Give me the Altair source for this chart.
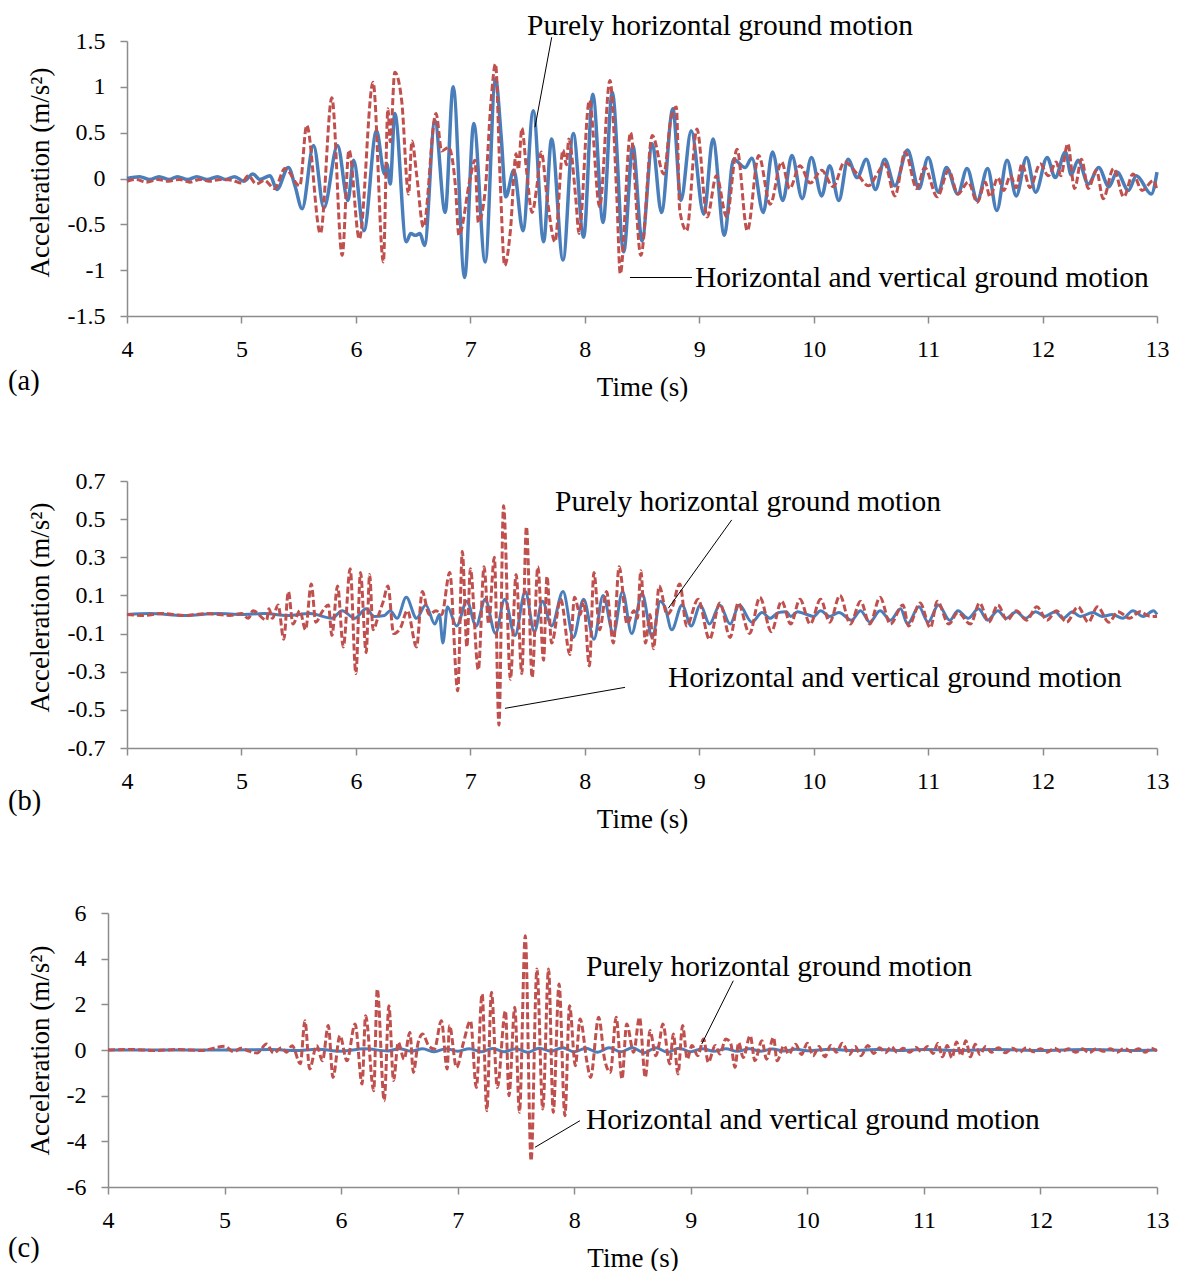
import altair as alt
import pandas as pd

FONT = "Liberation Serif"
BLUE = "#4A7EBB"
RED = "#C0504D"
GRAY = "#8C8C8C"

TIME_TICKS = [4, 5, 6, 7, 8, 9, 10, 11, 12, 13]

# ---------------- panel (a) ----------------
A_H = [(4.00, 0.0), (4.11, 0.02), (4.20, -0.01), (4.28, 0.02), (4.37, -0.01), (4.44, 0.02), (4.53, -0.01),
       (4.61, 0.02), (4.70, -0.01), (4.79, 0.02), (4.86, -0.01), (4.94, 0.02), (5.02, -0.03), (5.10, 0.05),
       (5.16, -0.01), (5.25, 0.03), (5.31, -0.12), (5.41, 0.12), (5.47, -0.09), (5.53, -0.33), (5.63, 0.36),
       (5.72, -0.32), (5.84, 0.36), (5.93, -0.24), (5.98, 0.20), (6.07, -0.57), (6.18, 0.52), (6.25, 0.05),
       (6.27, 0.16), (6.30, -0.06), (6.34, 0.71), (6.44, -0.69), (6.48, -0.60), (6.52, -0.62), (6.56, -0.60),
       (6.60, -0.73), (6.69, 0.63), (6.78, -0.37), (6.85, 1.00), (6.95, -1.08), (7.03, 0.60), (7.13, -0.91),
       (7.22, 1.09), (7.27, 0.45), (7.31, -0.20), (7.38, 0.09), (7.46, -0.57), (7.55, 0.74), (7.64, -0.69),
       (7.71, 0.43), (7.81, -0.89), (7.90, 0.49), (7.99, -0.64), (8.07, 0.92), (8.16, -0.48), (8.24, 0.94),
       (8.34, -0.80), (8.42, 0.36), (8.50, -0.68), (8.59, 0.38), (8.67, -0.37), (8.77, 0.76), (8.84, -0.24),
       (8.93, 0.52), (9.04, -0.39), (9.12, 0.43), (9.22, -0.62), (9.30, 0.21), (9.40, 0.12), (9.46, 0.22),
       (9.56, -0.37), (9.64, 0.29), (9.73, -0.24), (9.81, 0.25), (9.90, -0.22), (9.98, 0.23), (10.07, -0.19),
       (10.14, 0.14), (10.22, -0.24), (10.30, 0.21), (10.38, 0.01), (10.46, 0.21), (10.54, -0.12),
       (10.62, 0.21), (10.71, -0.08), (10.82, 0.31), (10.92, -0.11), (11.00, 0.23), (11.09, -0.15),
       (11.16, 0.12), (11.26, -0.17), (11.34, 0.11), (11.43, -0.24), (11.52, 0.11), (11.60, -0.35),
       (11.69, 0.20), (11.77, -0.19), (11.86, 0.23), (11.94, -0.15), (12.04, 0.23), (12.11, 0.01),
       (12.20, 0.29), (12.25, 0.04), (12.31, 0.20), (12.40, -0.06), (12.49, 0.12), (12.58, -0.09),
       (12.65, 0.07), (12.75, -0.13), (12.82, 0.03), (12.95, -0.17), (13.00, 0.07)]

A_HV = [(4.00, -0.03), (4.08, -0.01), (4.17, -0.04), (4.27, -0.01), (4.36, -0.03), (4.46, -0.01), (4.55, -0.04),
        (4.64, -0.01), (4.72, -0.03), (4.82, -0.01), (4.92, -0.02), (5.00, -0.05), (5.06, 0.03), (5.13, -0.06),
        (5.20, -0.02), (5.29, -0.11), (5.38, 0.11), (5.51, -0.08), (5.57, 0.58), (5.69, -0.60), (5.79, 0.88),
        (5.88, -0.84), (5.94, 0.31), (6.03, -0.66), (6.15, 1.05), (6.24, -0.91), (6.28, 0.76), (6.30, 0.40),
        (6.34, 1.16), (6.40, 0.85), (6.46, -0.17), (6.49, 0.41), (6.53, 0.05), (6.59, -0.53), (6.70, 0.71),
        (6.75, 0.30), (6.81, 0.34), (6.87, -0.09), (6.90, -0.62), (7.00, 0.01), (7.04, 0.20), (7.07, -0.48),
        (7.13, -0.13), (7.18, 0.83), (7.22, 1.25), (7.26, 0.0), (7.30, -0.95), (7.35, -0.57), (7.40, 0.27),
        (7.42, 0.10), (7.45, 0.55), (7.49, 0.10), (7.54, -0.37), (7.58, -0.10), (7.62, 0.29), (7.67, -0.20),
        (7.74, -0.69), (7.81, 0.31), (7.84, 0.15), (7.86, 0.43), (7.92, -0.20), (7.95, -0.60), (8.04, 0.85),
        (8.13, -0.31), (8.22, 1.07), (8.28, -0.20), (8.31, -1.04), (8.40, 0.50), (8.49, -0.84), (8.59, 0.47),
        (8.69, 0.05), (8.75, 0.63), (8.80, 0.78), (8.83, -0.35), (8.89, -0.57), (8.98, 0.54), (9.07, -0.42),
        (9.15, 0.03), (9.24, -0.42), (9.33, 0.32), (9.42, -0.57), (9.52, 0.25), (9.62, -0.28), (9.72, 0.18),
        (9.79, -0.11), (9.88, 0.14), (9.97, -0.05), (10.07, 0.09), (10.17, -0.09), (10.27, 0.18), (10.38, 0.05),
        (10.48, -0.08), (10.56, 0.06), (10.62, 0.16), (10.71, -0.19), (10.80, 0.29), (10.90, -0.11),
        (10.97, 0.12), (11.08, -0.20), (11.18, 0.09), (11.26, -0.17), (11.35, -0.04), (11.43, -0.26),
        (11.50, -0.04), (11.54, -0.20), (11.61, 0.01), (11.66, -0.13), (11.72, 0.03), (11.77, -0.10),
        (11.82, 0.16), (11.89, -0.10), (11.98, 0.16), (12.05, 0.03), (12.12, 0.18), (12.16, 0.03),
        (12.22, 0.38), (12.28, -0.11), (12.34, 0.21), (12.40, -0.11), (12.47, 0.09), (12.53, -0.22),
        (12.62, 0.11), (12.71, -0.20), (12.79, 0.05), (12.87, -0.13), (12.97, -0.02), (13.00, -0.13)]

A_YTICKS = [-1.5, -1, -0.5, 0, 0.5, 1, 1.5]

# ---------------- panel (b) ----------------
B_H = [(4.0, 0.0), (4.2, 0.005), (4.5, -0.005), (4.8, 0.005), (5.0, 0.0), (5.2, 0.005), (5.4, -0.005),
       (5.6, 0.005), (5.79, -0.02), (5.88, 0.02), (5.99, -0.02), (6.09, 0.03), (6.16, -0.01), (6.25, -0.005),
       (6.30, 0.02), (6.36, -0.02), (6.44, 0.09), (6.53, -0.02), (6.61, 0.05), (6.69, -0.05), (6.73, 0.0),
       (6.76, -0.15), (6.80, 0.04), (6.88, -0.06), (6.97, 0.07), (7.05, -0.06), (7.13, 0.08), (7.22, -0.10),
       (7.30, 0.08), (7.39, -0.11), (7.48, 0.12), (7.56, -0.09), (7.63, 0.07), (7.71, -0.06), (7.81, 0.12),
       (7.90, -0.12), (7.99, 0.08), (8.08, -0.13), (8.16, 0.10), (8.25, -0.10), (8.33, 0.12), (8.41, -0.10),
       (8.50, 0.11), (8.59, -0.12), (8.66, 0.07), (8.70, 0.04), (8.76, -0.08), (8.85, 0.05), (8.93, -0.06),
       (9.01, 0.05), (9.09, -0.05), (9.18, 0.05), (9.27, -0.05), (9.35, 0.05), (9.46, -0.04), (9.55, 0.01),
       (9.62, -0.02), (9.69, 0.01), (9.76, 0.015), (9.80, -0.01), (9.86, 0.015), (9.94, 0.0), (10.00, -0.01),
       (10.06, 0.02), (10.14, -0.01), (10.22, 0.01), (10.33, -0.03), (10.41, 0.02), (10.49, -0.04),
       (10.58, 0.02), (10.67, -0.03), (10.76, 0.03), (10.82, -0.05), (10.92, 0.04), (11.00, -0.04),
       (11.09, 0.05), (11.19, -0.03), (11.26, 0.02), (11.35, -0.02), (11.44, 0.03), (11.52, -0.03),
       (11.61, 0.02), (11.68, -0.02), (11.77, 0.015), (11.85, -0.02), (11.94, 0.015), (12.02, -0.01),
       (12.11, 0.015), (12.18, -0.02), (12.26, 0.015), (12.33, -0.01), (12.44, 0.01), (12.52, -0.01),
       (12.61, 0.0), (12.70, -0.02), (12.79, 0.02), (12.88, -0.01), (12.97, 0.02), (13.00, 0.0)]

B_HV = [(4.0, 0.0), (4.15, -0.005), (4.3, 0.005), (4.5, -0.005), (4.7, 0.005), (4.9, -0.005), (5.0, 0.005),
        (5.06, -0.02), (5.10, 0.02), (5.22, -0.03), (5.24, 0.03), (5.27, -0.02), (5.32, 0.05), (5.37, -0.13),
        (5.41, 0.12), (5.45, -0.05), (5.51, 0.02), (5.56, -0.08), (5.61, 0.16), (5.65, -0.04), (5.70, 0.01),
        (5.76, 0.05), (5.79, -0.11), (5.84, 0.15), (5.89, -0.17), (5.95, 0.24), (6.00, -0.31), (6.04, 0.22),
        (6.09, -0.20), (6.12, 0.21), (6.15, -0.08), (6.20, 0.0), (6.24, 0.07), (6.28, 0.15), (6.33, -0.10),
        (6.39, -0.07), (6.45, 0.02), (6.53, -0.17), (6.58, 0.12), (6.64, 0.0), (6.70, 0.02), (6.75, 0.0),
        (6.82, 0.22), (6.89, -0.40), (6.93, 0.33), (6.97, -0.17), (7.00, 0.24), (7.07, -0.29), (7.12, 0.25),
        (7.16, -0.05), (7.21, 0.30), (7.25, -0.58), (7.29, 0.57), (7.35, -0.34), (7.40, 0.21), (7.45, -0.31),
        (7.49, 0.46), (7.54, -0.33), (7.59, 0.25), (7.64, -0.24), (7.67, 0.20), (7.71, -0.15), (7.79, 0.08),
        (7.87, -0.21), (7.91, 0.09), (7.96, 0.0), (7.99, 0.07), (8.04, -0.27), (8.08, 0.22), (8.13, -0.08),
        (8.19, 0.12), (8.25, -0.15), (8.30, 0.25), (8.37, -0.05), (8.43, 0.02), (8.46, -0.02), (8.49, 0.23),
        (8.53, -0.15), (8.57, 0.0), (8.60, -0.18), (8.65, 0.15), (8.72, 0.0), (8.76, 0.03), (8.83, 0.16),
        (8.89, -0.06), (8.99, 0.08), (9.09, -0.13), (9.18, 0.06), (9.27, -0.12), (9.34, 0.06), (9.44, -0.10),
        (9.53, 0.09), (9.63, -0.09), (9.72, 0.07), (9.80, -0.05), (9.88, 0.08), (9.97, -0.05), (10.06, 0.08),
        (10.14, -0.04), (10.23, 0.10), (10.32, -0.05), (10.41, 0.07), (10.49, -0.05), (10.58, 0.09),
        (10.67, -0.05), (10.78, 0.05), (10.83, -0.06), (10.93, 0.06), (11.02, -0.07), (11.08, 0.07),
        (11.18, -0.05), (11.26, 0.01), (11.37, -0.05), (11.45, 0.06), (11.53, -0.04), (11.61, 0.05),
        (11.69, -0.03), (11.77, 0.02), (11.86, -0.03), (11.95, 0.04), (12.04, -0.03), (12.12, 0.02),
        (12.21, -0.04), (12.31, 0.04), (12.40, -0.04), (12.48, 0.04), (12.58, -0.04), (12.66, 0.015),
        (12.76, -0.02), (12.85, 0.015), (12.94, -0.01), (13.00, -0.01)]

B_YTICKS = [-0.7, -0.5, -0.3, -0.1, 0.1, 0.3, 0.5, 0.7]

# ---------------- panel (c) ----------------
C_H = [(4.0, 0.0), (4.5, 0.0), (5.0, 0.0), (5.4, 0.02), (5.6, -0.02), (5.8, 0.03), (6.0, -0.05), (6.2, 0.05),
       (6.4, -0.04), (6.5, 0.06), (6.6, -0.05), (6.7, 0.05), (6.8, -0.08), (6.9, 0.06), (7.0, -0.05),
       (7.1, 0.06), (7.2, -0.08), (7.3, 0.07), (7.4, -0.08), (7.5, 0.06), (7.6, -0.10), (7.7, 0.08),
       (7.8, -0.05), (7.9, 0.10), (8.0, -0.08), (8.1, 0.08), (8.2, -0.10), (8.3, 0.10), (8.4, -0.08),
       (8.5, 0.10), (8.6, -0.12), (8.7, 0.10), (8.8, -0.10), (8.9, 0.08), (9.0, -0.08), (9.1, 0.06),
       (9.2, -0.06), (9.3, 0.05), (9.4, -0.06), (9.5, 0.05), (9.6, -0.05), (9.7, 0.04), (9.8, -0.04),
       (9.9, 0.03), (10.0, -0.03), (10.2, 0.03), (10.4, -0.02), (10.6, 0.02), (10.8, -0.02), (11.0, 0.02),
       (11.3, -0.02), (11.6, 0.02), (12.0, -0.02), (12.4, 0.02), (12.8, -0.02), (13.0, 0.0)]

C_HV = [(4.0, 0.0), (4.2, 0.02), (4.4, -0.02), (4.6, 0.02), (4.8, -0.02), (5.0, 0.16), (5.08, -0.08),
        (5.14, 0.08), (5.21, -0.05), (5.28, -0.13), (5.36, 0.26), (5.42, -0.13), (5.49, 0.10), (5.53, -0.10),
        (5.58, 0.19), (5.65, -0.60), (5.69, 1.28), (5.73, -0.83), (5.79, 0.20), (5.84, -0.47), (5.89, 1.07),
        (5.93, -1.20), (5.99, 0.63), (6.05, -0.47), (6.12, 1.14), (6.18, -1.49), (6.21, 1.50), (6.28, -1.78),
        (6.31, 2.67), (6.37, -2.22), (6.41, 1.94), (6.45, -1.34), (6.49, 0.34), (6.54, -0.40), (6.59, 0.77),
        (6.62, -0.98), (6.66, 0.30), (6.70, 0.70), (6.75, 0.19), (6.80, 0.04), (6.86, 1.28), (6.91, -0.83),
        (6.93, 1.07), (6.99, -0.76), (7.05, 0.33), (7.11, 1.28), (7.16, -1.64), (7.21, 2.45), (7.25, -2.66),
        (7.29, 2.53), (7.34, -1.64), (7.41, 1.72), (7.44, -2.00), (7.49, 1.87), (7.53, -2.73), (7.58, 5.00),
        (7.63, -4.85), (7.68, 3.55), (7.73, -2.58), (7.78, 3.55), (7.82, -2.73), (7.87, 2.89), (7.92, -2.88),
        (7.96, 1.94), (8.01, -0.69), (8.05, 1.36), (8.11, -0.54), (8.14, -1.20), (8.21, 1.43), (8.26, -0.39),
        (8.31, -0.98), (8.36, 1.43), (8.41, -1.27), (8.45, 1.14), (8.51, -0.10), (8.56, 1.43), (8.61, -1.20),
        (8.65, 0.85), (8.70, -0.25), (8.73, 0.30), (8.76, 1.14), (8.82, -0.61), (8.85, 0.70), (8.89, -1.05),
        (8.93, 1.07), (8.97, -0.40), (9.01, 0.20), (9.06, -0.25), (9.11, 0.48), (9.15, -0.54), (9.21, 0.20),
        (9.25, -0.18), (9.30, 0.48), (9.34, 0.33), (9.38, -0.76), (9.41, 0.33), (9.45, -0.33), (9.51, 0.63),
        (9.55, -0.47), (9.61, 0.41), (9.65, -0.40), (9.71, 0.55), (9.74, -0.47), (9.80, 0.19), (9.84, -0.18),
        (9.90, 0.25), (9.95, -0.20), (10.00, 0.30), (10.05, -0.25), (10.10, 0.15), (10.15, -0.30),
        (10.20, 0.20), (10.25, -0.10), (10.30, 0.30), (10.36, -0.20), (10.41, 0.15), (10.46, -0.25),
        (10.52, 0.20), (10.57, -0.15), (10.62, 0.10), (10.67, -0.12), (10.72, 0.15), (10.77, -0.10),
        (10.82, 0.08), (10.88, -0.10), (10.93, 0.12), (10.98, -0.08), (11.03, 0.15), (11.08, -0.15),
        (11.12, 0.30), (11.16, -0.30), (11.20, 0.20), (11.24, -0.35), (11.28, 0.35), (11.32, -0.25),
        (11.36, 0.40), (11.40, -0.30), (11.44, 0.25), (11.48, -0.20), (11.53, 0.15), (11.58, -0.10),
        (11.64, 0.10), (11.70, -0.12), (11.76, 0.08), (11.82, -0.10), (11.88, 0.10), (11.94, -0.08),
        (12.00, 0.06), (12.06, -0.10), (12.12, 0.08), (12.18, -0.08), (12.24, 0.06), (12.30, -0.10),
        (12.36, 0.05), (12.42, -0.12), (12.48, 0.06), (12.54, -0.06), (12.60, 0.05), (12.66, -0.10),
        (12.72, 0.08), (12.78, -0.08), (12.84, 0.06), (12.90, -0.10), (12.95, 0.08), (13.00, -0.05)]

C_YTICKS = [-6, -4, -2, 0, 2, 4, 6]

LBL_PURE = "Purely horizontal ground motion"
LBL_BOTH = "Horizontal and vertical ground motion"

# annotation text anchors (time, acceleration) and leader lines (t1, v1, t2, v2)
A_TEXT = [(7.495, 1.665, LBL_PURE), (8.963, -1.08, LBL_BOTH)]
A_LEAD = [(7.711, 1.541, 7.565, 0.56), (8.395, -1.08, 8.937, -1.08)]
B_TEXT = [(7.74, 0.59, LBL_PURE), (8.727, -0.333, LBL_BOTH)]
B_LEAD = [(9.284, 0.496, 8.73, 0.033), (7.303, -0.492, 8.352, -0.382)]
C_TEXT = [(8.101, 3.636, LBL_PURE), (8.101, -3.066, LBL_BOTH)]
C_LEAD = [(9.365, 3.035, 9.094, 0.263), (8.049, -3.097, 7.663, -4.262)]


def panel(h_pts, hv_pts, ydom, yticks, width, height, letter, letter_x, letter_y,
          texts, leads, ytitle_x, ytitle_y, blue_w):
    dh = pd.DataFrame(h_pts, columns=["t", "v"])
    dhv = pd.DataFrame(hv_pts, columns=["t", "v"])
    dtext = pd.DataFrame(texts, columns=["t", "v", "label"])
    dlead = pd.DataFrame(leads, columns=["t", "v", "t2", "v2"])
    dletter = pd.DataFrame({"label": [letter]})

    x = alt.X("t:Q", scale=alt.Scale(domain=[4, 13], nice=False, zero=False),
              axis=alt.Axis(values=TIME_TICKS, title="Time (s)", titleY=71, labelFlush=False,
                            titleBaseline="middle", grid=False))
    y = alt.Y("v:Q", scale=alt.Scale(domain=ydom, nice=False, zero=False),
              axis=alt.Axis(values=yticks, title="Acceleration (m/s²)", grid=False, labelFlush=False,
                            labelExpr="toString(datum.value)", titleX=ytitle_x, titleY=ytitle_y,
                            titleAngle=270, titleBaseline="middle", titleAlign="center"))

    blue = alt.Chart(dh).mark_line(color=BLUE, strokeWidth=blue_w, interpolate="monotone").encode(x=x, y=y)
    red = alt.Chart(dhv).mark_line(color=RED, strokeWidth=3, strokeDash=[7, 3],
                                   interpolate="monotone").encode(x=x, y=y)
    lead = alt.Chart(dlead).mark_rule(color="black", strokeWidth=1).encode(
        x=x, y=y, x2="t2:Q", y2="v2:Q")
    txt = alt.Chart(dtext).mark_text(align="left", baseline="middle", font=FONT, fontSize=29.5,
                                     color="black").encode(x=x, y=y, text="label:N")
    let = alt.Chart(dletter).mark_text(align="left", baseline="middle", font=FONT, fontSize=28.5,
                                       color="black").encode(
        x=alt.value(letter_x), y=alt.value(letter_y), text="label:N")
    return alt.layer(blue, red, lead, txt, let).properties(width=width, height=height)


def spacer():
    d = pd.DataFrame({"s": [0]})
    return alt.Chart(d).mark_point(opacity=0).encode(
        x=alt.value(0), y=alt.value(0)).properties(width=1, height=1)


pa = panel(A_H, A_HV, [-1.5, 1.5], A_YTICKS, 1030, 275, "(a)", -119, 340, A_TEXT, A_LEAD, -87, 131, 3.5)
pb = panel(B_H, B_HV, [-0.7, 0.7], B_YTICKS, 1030, 267, "(b)", -119, 320, B_TEXT, B_LEAD, -87, 126, 3)
pc = panel(C_H, C_HV, [-6, 6], C_YTICKS, 1049, 274, "(c)", -100, 335, C_TEXT, C_LEAD, -68, 137, 3)

rows = [alt.hconcat(spacer(), p, spacing=0) for p in (pa, pb, pc)]

chart = alt.vconcat(*rows, spacing=69).properties(
    padding={"left": -6, "top": 2, "right": 0, "bottom": 0}
).configure_view(
    strokeWidth=0
).configure_axis(
    domainColor=GRAY, domainWidth=1.5, tickColor=GRAY, tickWidth=1.5, tickSize=7,
    labelFont=FONT, labelFontSize=24, labelColor="black",
    titleFont=FONT, titleFontSize=27, titleFontWeight="normal", titleColor="black"
).configure_axisY(labelPadding=15).configure_axisX(labelPadding=14)

chart.save("out.html", embed_options={"renderer": "svg", "actions": False})
